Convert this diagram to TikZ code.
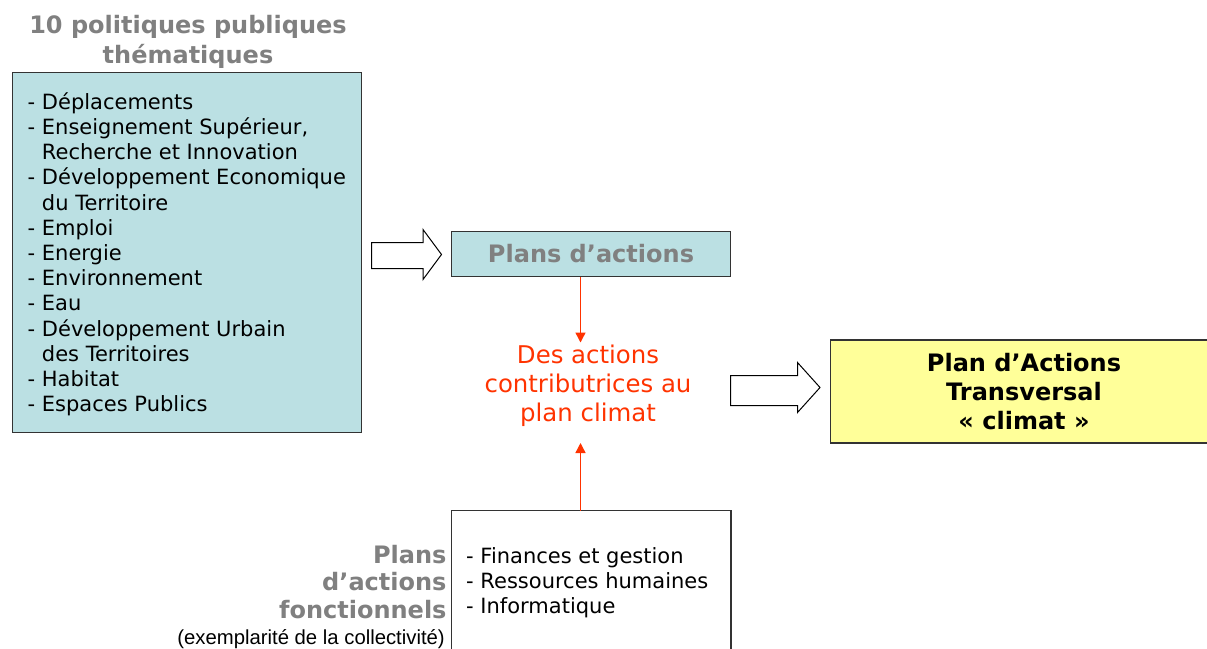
\documentclass[tikz,border=0pt]{standalone}
\usepackage{fontspec}
\setmainfont{DejaVu Sans}
\newfontfamily\arialf{Liberation Sans}
\usetikzlibrary{arrows.meta}
\definecolor{boxblue}{HTML}{BBE0E3}
\definecolor{txtgray}{HTML}{808080}
\definecolor{redc}{HTML}{FF3300}
\definecolor{boxyellow}{HTML}{FFFF99}
\begin{document}
\begin{tikzpicture}[x=1pt,y=-1pt,
  box/.style={draw=black!80,line width=1.2pt,inner sep=0pt,outer sep=0pt,anchor=north west},
  listtxt/.style={font=\fontsize{21}{24}\selectfont,anchor=base west,inner sep=0pt},
  graybold/.style={font=\bfseries\fontsize{24}{29}\selectfont,text=txtgray,inner sep=0pt},
  blackbold/.style={font=\bfseries\fontsize{24}{29}\selectfont,text=black,inner sep=0pt,anchor=base},
  redtxt/.style={font=\fontsize{24.4}{29}\selectfont,text=redc,inner sep=0pt,anchor=base},
  redarrow/.style={draw=redc,line width=1.4pt,-{Triangle[length=10pt,width=10pt]}},
  blockarrow/.style={draw=black,line width=1pt,fill=white,line join=miter},
]
\useasboundingbox (0,0) rectangle (1207,648);

% title
\node[graybold,anchor=base] (t1) at (188,33.5) {10 politiques publiques};
\node[graybold,anchor=base] (t2) at (188,63.5) {thématiques};

% left box
\node[box,fill=boxblue,minimum width=349.5pt,minimum height=360pt] (lb) at (12.3,72.7) {};
\foreach \t [count=\i from 0] in {%
  {- Déplacements},
  {- Enseignement Supérieur,},
  {\phantom{- }Recherche et Innovation},
  {- Développement Economique},
  {\phantom{- }du Territoire},
  {- Emploi},
  {- Energie},
  {- Environnement},
  {- Eau},
  {- Développement Urbain},
  {\phantom{- }des Territoires},
  {- Habitat},
  {- Espaces Publics}}
  \node[listtxt] (item\i) at (27.5,109.3+25.2*\i) {\t};

% block arrow 1
\draw[blockarrow] (371.5,242.5) -- (423,242.5) -- (423,229.5) -- (441.5,254.5)
  -- (423,279.5) -- (423,268.5) -- (371.5,268.5) -- cycle;

% plans d'actions box
\node[box,fill=boxblue,minimum width=279.5pt,minimum height=45pt] (pa) at (451.3,231.8) {};
\node[graybold,anchor=base] (patxt) at (591,262.5) {Plans d’actions};

% red text
\node[redtxt] (r1) at (588,363) {Des actions};
\node[redtxt] (r2) at (588,392) {contributrices au};
\node[redtxt] (r3) at (588,421) {plan climat};
\coordinate (rtop) at (580.5,342.5);
\coordinate (rbot) at (580.5,443);
\draw[redarrow] (pa.south -| rtop) -- (rtop);

% block arrow 2
\draw[blockarrow] (730.5,375.5) -- (797.5,375.5) -- (797.5,362.5) -- (820,387.5)
  -- (797.5,412.5) -- (797.5,405.5) -- (730.5,405.5) -- cycle;

% yellow box
\node[box,fill=boxyellow,minimum width=400pt,minimum height=103pt] (yb) at (830.3,340) {};
\node[blackbold] (y1) at (1024,371.5) {Plan d’Actions};
\node[blackbold] (y2) at (1024,400.5) {Transversal};
\node[blackbold] (y3) at (1024,429) {« climat »};

% bottom box
\node[box,fill=white,minimum width=279.5pt,minimum height=160pt] (bb) at (451.5,510.7) {};
\node[listtxt] (b1) at (466,563.3) {- Finances et gestion};
\node[listtxt] (b2) at (466,588.8) {- Ressources humaines};
\node[listtxt] (b3) at (466,613.8) {- Informatique};
\draw[redarrow] (bb.north -| rbot) -- (rbot);

% left labels
\node[graybold,anchor=base east] (f1) at (446.7,563.3) {Plans};
\node[graybold,anchor=base east] (f2) at (446.7,590.7) {d’actions};
\node[graybold,anchor=base east] (f3) at (446.7,618.3) {fonctionnels};
\node[font=\arialf\fontsize{20.3}{22}\selectfont,inner sep=0pt,anchor=base east] (f4) at (445,644) {(exemplarité de la collectivité)};
\end{tikzpicture}
\end{document}
